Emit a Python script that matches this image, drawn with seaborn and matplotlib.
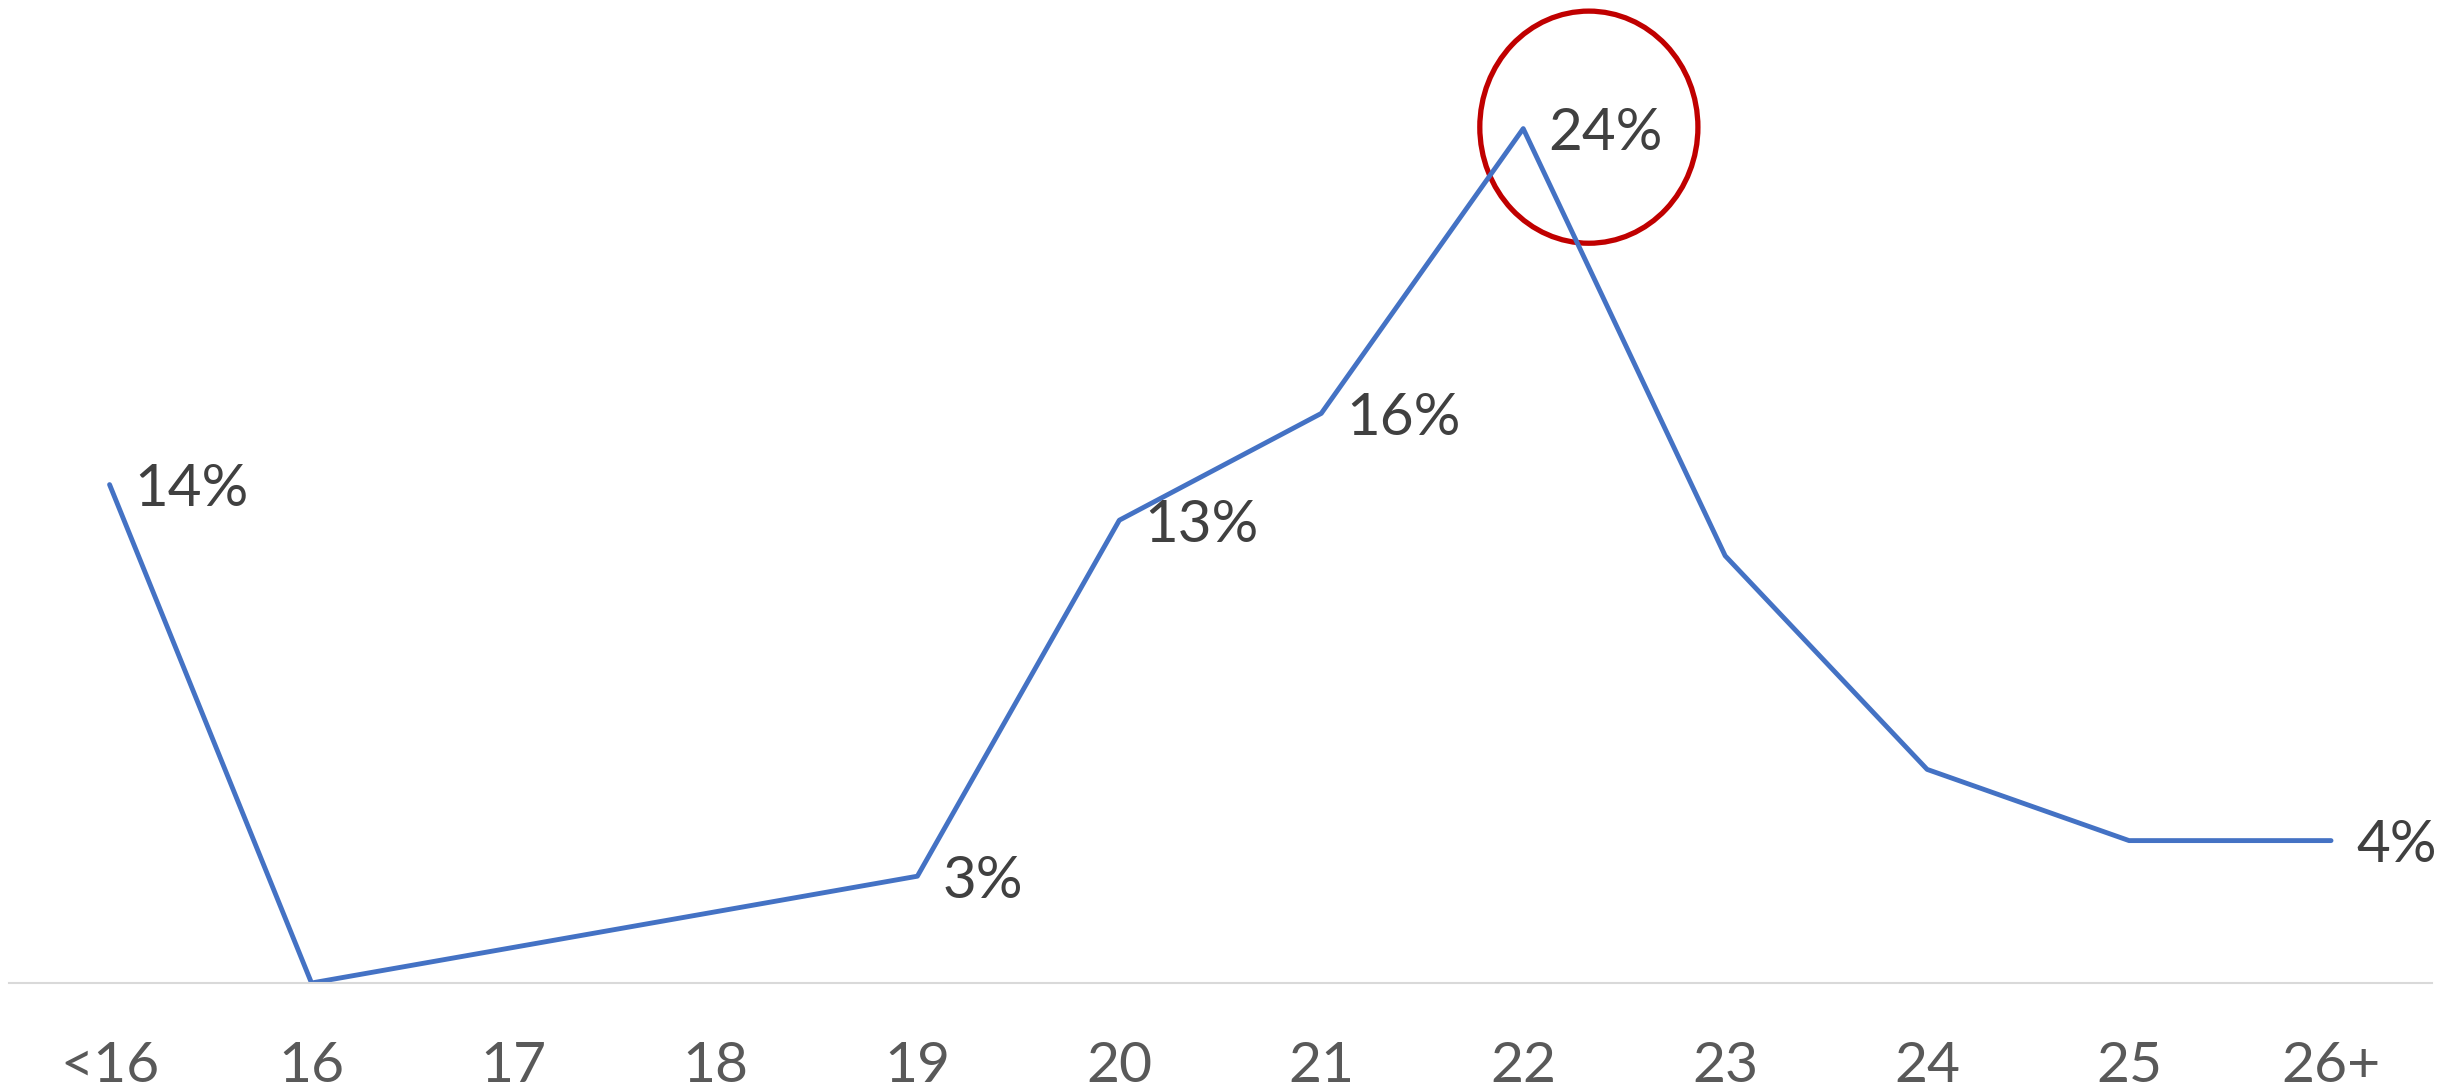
import numpy as np
import pandas as pd
import matplotlib
matplotlib.use("Agg")
import matplotlib.pyplot as plt
from matplotlib.patches import Ellipse
import seaborn as sns

# Share of respondents by age group (17 and 18 have no reading)
categories = ["<16", "16", "17", "18", "19", "20", "21", "22", "23", "24", "25", "26+"]
shares = [14, 0, np.nan, np.nan, 3, 13, 16, 24, 12, 6, 4, 4]
labelled = ["<16", "19", "20", "21", "22", "26+"]
highlight = "22"

sns.set_theme(style="white")
plt.rcParams["font.family"] = ["Lato", "DejaVu Sans"]

df = pd.DataFrame({"pos": np.arange(len(categories)), "age": categories, "share": shares})

W, H, DPI = 2453, 1092, 100
fig = plt.figure(figsize=(W / DPI, H / DPI), dpi=DPI)
left_px, right_px, base_px = 8.6, 2432.0, 983.0
ax = fig.add_axes([left_px / W, (H - base_px) / H, (right_px - left_px) / W, base_px / H])

sns.lineplot(data=df, x="pos", y="share", ax=ax, color="#4472C4", linewidth=3.5,
             sort=False, solid_capstyle="round", solid_joinstyle="round")

ax.set_xlim(-0.5, len(categories) - 0.5)
ax.set_ylim(0, base_px / 35.6)

for spine in ["top", "right", "left"]:
    ax.spines[spine].set_visible(False)
ax.spines["bottom"].set_color("#D9D9D9")
ax.spines["bottom"].set_linewidth(1.5)

ax.set_xticks(df["pos"])
ax.set_xticklabels(categories, fontsize=41, color="#595959")
ax.tick_params(axis="x", length=0, pad=42)
ax.set_yticks([])
ax.set_xlabel("")
ax.set_ylabel("")

for _, row in df.iterrows():
    if row["age"] in labelled:
        ax.annotate(f"{int(row['share'])}%", xy=(row["pos"], row["share"]),
                    xytext=(18, 0), textcoords="offset points",
                    ha="left", va="center_baseline", fontsize=42, color="#404040")

# Red ring around the peak value
peak = df[df["age"] == highlight].iloc[0]
ax.add_patch(Ellipse((peak["pos"] + 0.325, peak["share"] + 0.04), width=1.08, height=6.52,
                     fill=False, edgecolor="#C00000", linewidth=3.8, clip_on=False))

fig.savefig("out.png", dpi=DPI, facecolor="white")
